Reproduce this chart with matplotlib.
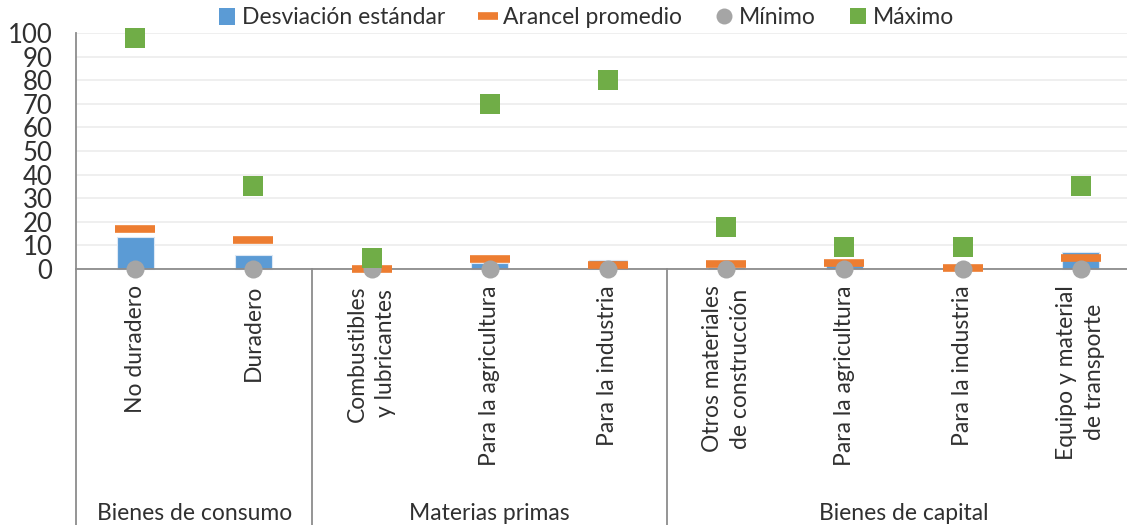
import matplotlib
matplotlib.use("Agg")
import matplotlib.pyplot as plt
from matplotlib.lines import Line2D
from matplotlib.patches import Patch
import numpy as np

plt.rcParams['font.family'] = ['Lato', 'DejaVu Sans']

categories = ["No duradero", "Duradero",
              "Combustibles\ny lubricantes", "Para la agricultura", "Para la industria",
              "Otros materiales\nde construcción", "Para la agricultura", "Para la industria",
              "Equipo y material\nde transporte"]
groups = ["Bienes de consumo", "Materias primas", "Bienes de capital"]
group_sizes = [2, 3, 4]

desviacion = [13.7, 5.9, 0.2, 2.5, 3.7, 0.8, 1.5, 0.3, 7.1]
arancel = [17.0, 12.3, 0.1, 4.2, 1.5, 2.2, 2.6, 0.5, 4.7]
minimo = [0, 0, 0, 0, 0, 0, 0, 0, 0]
maximo = [98, 35, 4.5, 70, 80, 18, 9.5, 9.5, 35]

W, H = 1127, 525
fig = plt.figure(figsize=(W/100, H/100), dpi=100)
ax = fig.add_axes([76/W, (H-269)/H, 1064/W, 236/H])

x = np.arange(len(categories))
txt = '#303030'
blue, orange, gray, green = '#5B9BD5', '#ED7D31', '#A5A5A5', '#70AD47'

ax.bar(x, desviacion, width=0.313, color=blue, edgecolor='#DCE8F5', linewidth=0.8, zorder=2, clip_on=False)
ax.plot(x, arancel, linestyle='none', marker='_', markersize=29, markeredgewidth=5.5,
        color=orange, zorder=3, clip_on=False)
ax.plot(x, minimo, linestyle='none', marker='o', markersize=13, color=gray,
        markeredgewidth=0, zorder=4, clip_on=False)
ax.plot(x, maximo, linestyle='none', marker='s', markersize=13.7, color=green,
        markeredgewidth=0, zorder=5, clip_on=False)

ax.set_xlim(-0.5, len(categories) - 0.5)
ax.set_ylim(0, 100)
ax.set_yticks(np.arange(0, 101, 10))
ax.yaxis.grid(True, color='#EEEEEE', linewidth=1.3, zorder=0)
ax.set_axisbelow(True)
ax.tick_params(axis='y', length=0, pad=17, labelsize=18.5, labelcolor=txt)
ax.set_xticks([])
for s in ['top', 'right']:
    ax.spines[s].set_visible(False)
ax.spines['left'].set_color('#8C8C8C')
ax.spines['left'].set_linewidth(1.3)
ax.spines['bottom'].set_color('#8C8C8C')
ax.spines['bottom'].set_linewidth(1.3)

px = 2.36
def yv(p):
    return (269 - p) / px

for xi, lab in zip(x, categories):
    ax.text(xi, yv(285), lab, rotation=90, ha='center', va='top', fontsize=16.5,
            color=txt, multialignment='center', linespacing=1.4)

bounds = np.concatenate([[0], np.cumsum(group_sizes)]) - 0.5
for b in bounds[:-1]:
    ax.plot([b, b], [0, yv(530)], color='#8C8C8C', linewidth=1.3, clip_on=False, zorder=1)
for i, g in enumerate(groups):
    c = (bounds[i] + bounds[i+1]) / 2
    ax.text(c, yv(513), g, ha='center', va='center', fontsize=16.5, color=txt)

handles = [Patch(facecolor=blue, edgecolor='none'),
           Line2D([], [], linestyle='none', marker='_', markersize=14, markeredgewidth=5.5, color=orange),
           Line2D([], [], linestyle='none', marker='o', markersize=11.5, color=gray, markeredgewidth=0),
           Line2D([], [], linestyle='none', marker='s', markersize=11.5, color=green, markeredgewidth=0)]
labels = ["Desviación estándar", "Arancel promedio", "Mínimo", "Máximo"]
fig.legend(handles, labels, loc='center', bbox_to_anchor=(587/W, 1 - 18/H), ncol=4,
           frameon=False, fontsize=16.5, handlelength=0.7, handletextpad=0.3,
           columnspacing=1.5, labelcolor=txt, borderpad=0)

fig.savefig("out.png", dpi=100)
